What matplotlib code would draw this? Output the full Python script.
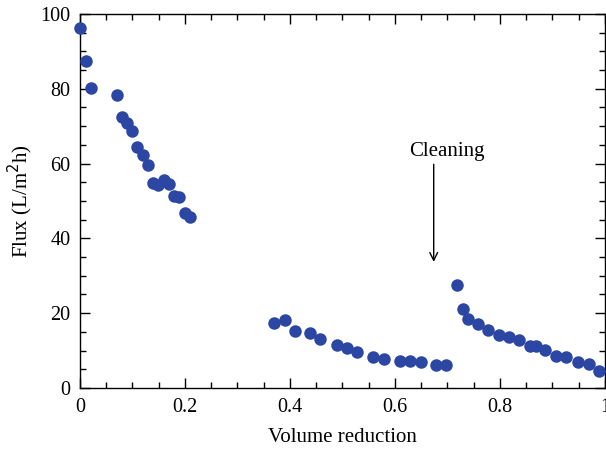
import numpy as np
import matplotlib.pyplot as plt
from matplotlib.ticker import MultipleLocator

plt.rcParams['font.family'] = ['Liberation Serif', 'DejaVu Serif']

# before cleaning, stage 1
vr1 = [0.0, 0.011, 0.021, 0.070, 0.080, 0.090, 0.099, 0.109, 0.120, 0.130,
       0.139, 0.149, 0.160, 0.170, 0.179, 0.189, 0.200, 0.210]
flux1 = [96.3, 87.4, 80.2, 78.3, 72.5, 70.9, 68.7, 64.4, 62.3, 59.6,
         54.8, 54.3, 55.6, 54.5, 51.3, 51.1, 46.8, 45.7]

# stage 2
vr2 = [0.369, 0.390, 0.410, 0.439, 0.458, 0.489, 0.508, 0.528, 0.559, 0.579,
       0.610, 0.629, 0.649, 0.678, 0.698]
flux2 = [17.4, 18.2, 15.3, 14.6, 13.2, 11.5, 10.7, 9.6, 8.2, 7.6,
         7.3, 7.1, 7.0, 6.1, 6.2]

# after cleaning
vr3 = [0.719, 0.730, 0.740, 0.759, 0.778, 0.798, 0.818, 0.837, 0.857, 0.868,
       0.887, 0.907, 0.926, 0.949, 0.969, 0.989]
flux3 = [27.5, 21.1, 18.4, 17.1, 15.5, 14.1, 13.7, 12.7, 11.1, 11.1,
         10.2, 8.6, 8.3, 7.0, 6.4, 4.6]

vr = vr1 + vr2 + vr3
flux = flux1 + flux2 + flux3

fig = plt.figure(figsize=(6.06, 4.5), dpi=100)
ax = fig.add_axes([0.132, 0.138, 0.866, 0.831])

ax.plot(vr, flux, 'o', color='#2b46a3', ms=9, mec='none', clip_on=False, zorder=3)

ax.set_xlim(0, 1)
ax.set_ylim(0, 100)
ax.xaxis.set_major_locator(MultipleLocator(0.2))
ax.xaxis.set_minor_locator(MultipleLocator(0.05))
ax.yaxis.set_major_locator(MultipleLocator(20))
ax.yaxis.set_minor_locator(MultipleLocator(5))
ax.set_xticks([0, 0.2, 0.4, 0.6, 0.8, 1])
ax.set_xticklabels(['0', '0.2', '0.4', '0.6', '0.8', '1'])
ax.tick_params(which='both', direction='in', top=True, right=True, labelsize=14.5, width=1)
ax.tick_params(which='major', length=7, pad=7)
ax.tick_params(which='minor', length=4.5)
for s in ax.spines.values():
    s.set_linewidth(1)

ax.set_xlabel('Volume reduction', fontsize=15, labelpad=8)
ax.set_ylabel('Flux (L/m$^2$h)', fontsize=15, labelpad=4)

ax.annotate('', xy=(0.674, 33.7), xytext=(0.674, 59.8),
            arrowprops=dict(arrowstyle='->', color='black', lw=1, mutation_scale=14,
                            shrinkA=0, shrinkB=0))
ax.text(0.70, 63.3, 'Cleaning', ha='center', va='center', fontsize=15)

fig.savefig('out.png', dpi=100)
